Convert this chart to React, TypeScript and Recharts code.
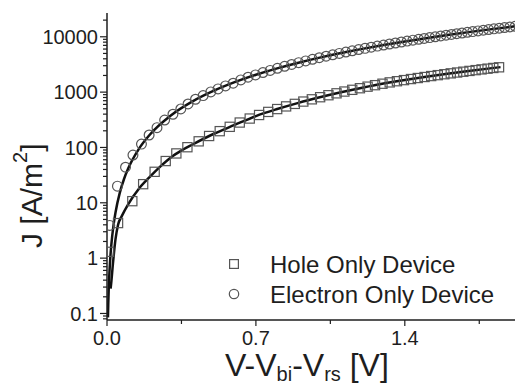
import React from "react";
import { ComposedChart, Scatter, Line, XAxis, YAxis, Legend } from "recharts";

// measured points (V-Vbi-Vrs in V, J in A/m^2)
const holeV = [0.010, 0.052, 0.119, 0.170, 0.224, 0.276, 0.326, 0.378, 0.431, 0.480, 0.530, 0.577, 0.624, 0.671, 0.715, 0.758, 0.800, 0.842, 0.883, 0.923, 0.963, 1.002, 1.041, 1.079, 1.116, 1.153, 1.189, 1.225, 1.260, 1.295, 1.329, 1.363, 1.396, 1.429, 1.461, 1.493, 1.524, 1.555, 1.586, 1.616, 1.646, 1.675, 1.704, 1.733, 1.761, 1.789, 1.816, 1.843];
const holeJ = [1.3, 4.3, 10.7, 21.7, 36.3, 56.8, 78, 101, 129, 161, 197, 236, 282, 333, 386, 439, 494, 552, 613, 675, 741, 809, 879, 951, 1024, 1100, 1176, 1255, 1335, 1418, 1499, 1574, 1648, 1723, 1798, 1875, 1951, 2027, 2105, 2183, 2261, 2338, 2416, 2496, 2575, 2654, 2731, 2810];

const electronV = [0.013, 0.049, 0.087, 0.122, 0.162, 0.198, 0.235, 0.271, 0.310, 0.347, 0.381, 0.416, 0.452, 0.488, 0.522, 0.557, 0.593, 0.629, 0.663, 0.698, 0.733, 0.767, 0.801, 0.835, 0.868, 0.901, 0.934, 0.966, 0.998, 1.030, 1.061, 1.092, 1.123, 1.153, 1.183, 1.213, 1.242, 1.271, 1.300, 1.328, 1.356, 1.384, 1.411, 1.438, 1.465, 1.491, 1.517, 1.543, 1.569, 1.594, 1.619, 1.644, 1.669, 1.694, 1.719, 1.744, 1.769, 1.794, 1.819, 1.844, 1.869, 1.894, 1.919];
const electronJ = [3.9, 20, 44, 73, 115, 168, 228, 313, 398, 497, 611, 743, 865, 1010, 1143, 1295, 1449, 1663, 1862, 2046, 2257, 2471, 2695, 2928, 3164, 3410, 3664, 3919, 4183, 4456, 4728, 5008, 5297, 5584, 5878, 6180, 6479, 6785, 7098, 7407, 7723, 8045, 8362, 8685, 9014, 9337, 9665, 9999, 10340, 10671, 11009, 11351, 11700, 12052, 12411, 12774, 13143, 13517, 13897, 14281, 14671, 15066, 15467];

// fitted curves
const holeFitV = [0.017, 0.02, 0.028, 0.04, 0.052, 0.07, 0.1, 0.15, 0.2, 0.25, 0.3, 0.35, 0.4, 0.5, 0.6, 0.7, 0.8, 0.9, 1.0, 1.1, 1.2, 1.3, 1.4, 1.5, 1.6, 1.7, 1.8, 1.85];
const holeFitJ = [0.28, 0.36, 0.8, 2.2, 4.0, 5.8, 9.5, 18, 29, 45, 66, 88, 112, 175, 255, 369, 494, 640, 805, 992, 1200, 1430, 1657, 1892, 2141, 2406, 2685, 2829];

const electronFitV = [0.0045, 0.006, 0.008, 0.01, 0.015, 0.02, 0.03, 0.04, 0.06, 0.08, 0.1, 0.15, 0.2, 0.3, 0.4, 0.5, 0.6, 0.7, 0.8, 0.9, 1.0, 1.1, 1.2, 1.3, 1.4, 1.5, 1.6, 1.7, 1.8, 1.92];
const electronFitJ = [0.085, 0.15, 0.27, 0.42, 0.95, 1.68, 3.8, 6.7, 15.1, 26.9, 42, 94.5, 168, 378, 672, 1050, 1512, 2058, 2688, 3402, 4200, 5082, 6048, 7098, 8232, 9450, 10752, 12138, 13608, 15483];

const seriesNames = ["Hole Only Device", "Electron Only Device"];
const xMajorTicks = [0, 0.7, 1.4];
const xMinorTicks = [0.35, 1.05, 1.75];
const yMajorTicks = [0.1, 1, 10, 100, 1000, 10000];
const yMinorTicks = [0.08, 0.09, 0.2, 0.3, 0.4, 0.5, 0.6, 0.7, 0.8, 0.9, 2, 3, 4, 5, 6, 7, 8, 9, 20, 30, 40, 50, 60, 70, 80, 90, 200, 300, 400, 500, 600, 700, 800, 900, 2000, 3000, 4000, 5000, 6000, 7000, 8000, 9000, 20000];

const toPoints = (xs: number[], ys: number[]) => xs.map((v, i) => ({ v, j: ys[i] }));

const holeData = toPoints(holeV, holeJ);
const electronData = toPoints(electronV, electronJ);
const holeFit = toPoints(holeFitV, holeFitJ);
const electronFit = toPoints(electronFitV, electronFitJ);

const FONT = "Liberation Sans, Arial, Helvetica, sans-serif";
const INK = "#1e1e1e";
const MARK = "#555";

const Square = (p: any) => (
  <rect x={p.cx - 4.6} y={p.cy - 4.6} width={9.2} height={9.2} fill="none" stroke={MARK} strokeWidth={1.2} />
);
const Ring = (p: any) => <circle cx={p.cx} cy={p.cy} r={4.9} fill="none" stroke={MARK} strokeWidth={1.2} />;

const YTick = (props: any) => {
  const { x, y, payload } = props;
  const major = yMajorTicks.includes(payload.value);
  return (
    <g>
      <line x1={x - (major ? 7 : 4)} x2={x} y1={y} y2={y} stroke={INK} strokeWidth={1.2} />
      {major && (
        <text x={x - 9} y={y} dy="0.36em" textAnchor="end" fontSize={20} fontFamily={FONT} fill={INK}>
          {String(payload.value)}
        </text>
      )}
    </g>
  );
};

const XTick = (props: any) => {
  const { x, y, payload } = props;
  const major = xMajorTicks.includes(payload.value);
  return (
    <g>
      <line x1={x} x2={x} y1={y} y2={y + (major ? 6 : 4)} stroke={INK} strokeWidth={1.2} />
      {major && (
        <text x={x} y={y + 11} dy="0.71em" textAnchor="middle" fontSize={20} fontFamily={FONT} fill={INK}>
          {payload.value.toFixed(1)}
        </text>
      )}
    </g>
  );
};

const TopTick = (props: any) => {
  const { x, y, payload } = props;
  const major = xMajorTicks.includes(payload.value);
  return <line x1={x} x2={x} y1={y} y2={y + (major ? 6 : 3)} stroke={INK} strokeWidth={1.2} />;
};

const XLabel = () => (
  <text x={225} y={376} fontSize={32} fontFamily={FONT} fill={INK}>
    V-V<tspan dy={5} fontSize={20}>bi</tspan>
    <tspan dy={-5}>-V</tspan>
    <tspan dy={5} fontSize={20}>rs</tspan>
    <tspan dy={-5}> [V]</tspan>
  </text>
);

const YLabel = () => (
  <text x={42} y={248} transform="rotate(-90 42 248)" fontSize={30} fontFamily={FONT} fill={INK}>
    J [A/m<tspan dy={-15} fontSize={20}>2</tspan>
    <tspan dy={15}>]</tspan>
  </text>
);

const renderLegend = (props: any) => {
  const items = (props.payload || [])
    .filter((e: any) => seriesNames.includes(e.value))
    .sort((a: any, b: any) => seriesNames.indexOf(a.value) - seriesNames.indexOf(b.value));
  return (
    <svg width={290} height={64} style={{ display: "block" }}>
      {items.map((e: any, i: number) => {
        const cy = 19 + i * 30;
        return (
          <g key={e.value}>
            {e.value === seriesNames[0] ? (
              <rect x={9.6} y={cy - 4.4} width={8.8} height={8.8} fill="none" stroke={MARK} strokeWidth={1.2} />
            ) : (
              <circle cx={14} cy={cy} r={4.7} fill="none" stroke={MARK} strokeWidth={1.2} />
            )}
            <text x={50} y={cy + 8.6} fontSize={24} fontFamily={FONT} fill={INK}>
              {e.value}
            </text>
          </g>
        );
      })}
    </svg>
  );
};

export default function App() {
  return (
    <div style={{ position: "absolute", left: 0, top: 0, width: 515, height: 386, background: "#fff" }}>
      <ComposedChart width={515} height={386} margin={{ top: 13, right: 0, bottom: 0, left: 0 }}>
        <XAxis
          type="number"
          dataKey="v"
          domain={[0, 1.918]}
          allowDataOverflow
          ticks={[...xMajorTicks, ...xMinorTicks].sort((a, b) => a - b)}
          interval={0}
          height={66}
          tickSize={0}
          tickMargin={0}
          tickLine={false}
          tick={<XTick />}
          axisLine={{ stroke: INK, strokeWidth: 1.5 }}
          label={<XLabel />}
        />
        <XAxis
          xAxisId="top"
          orientation="top"
          type="number"
          dataKey="v"
          domain={[0, 1.918]}
          allowDataOverflow
          ticks={[...xMajorTicks, ...xMinorTicks].sort((a, b) => a - b)}
          interval={0}
          height={0}
          tickSize={0}
          tickMargin={0}
          tickLine={false}
          tick={<TopTick />}
          axisLine={{ stroke: INK, strokeWidth: 1.5 }}
        />
        <YAxis
          type="number"
          dataKey="j"
          scale="log"
          domain={[0.0762, 26900]}
          allowDataOverflow
          ticks={[...yMajorTicks, ...yMinorTicks].sort((a, b) => a - b)}
          interval={0}
          width={107}
          tickSize={0}
          tickMargin={0}
          tickLine={false}
          tick={<YTick />}
          axisLine={{ stroke: INK, strokeWidth: 1.5 }}
          label={<YLabel />}
        />
        <Scatter name={seriesNames[0]} data={holeData} shape={Square} isAnimationActive={false} />
        <Scatter name={seriesNames[1]} data={electronData} shape={Ring} isAnimationActive={false} />
        <Line
          data={holeFit}
          dataKey="j"
          type="monotone"
          stroke="#111"
          strokeWidth={2.5}
          dot={false}
          legendType="none"
          isAnimationActive={false}
        />
        <Line
          data={electronFit}
          dataKey="j"
          type="monotone"
          stroke="#111"
          strokeWidth={2.5}
          dot={false}
          legendType="none"
          isAnimationActive={false}
        />
        <Legend
          layout="vertical"
          align="center"
          verticalAlign="middle"
          content={renderLegend}
          wrapperStyle={{ position: "absolute", left: 220, top: 245, width: 290, height: 64 }}
        />
      </ComposedChart>
    </div>
  );
}
